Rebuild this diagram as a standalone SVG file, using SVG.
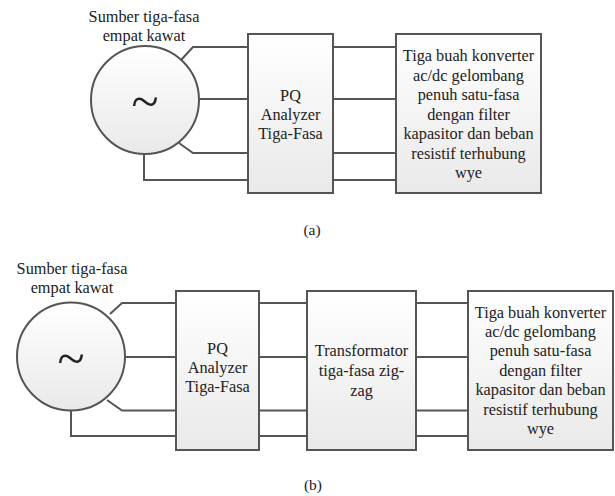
<svg xmlns="http://www.w3.org/2000/svg" width="615" height="496" viewBox="0 0 615 496">
<defs>
<linearGradient id="g" x1="0" y1="0" x2="0" y2="1">
<stop offset="0" stop-color="#ffffff"/>
<stop offset="1" stop-color="#e9e9e9"/>
</linearGradient>
<style>
.b{fill:url(#g);stroke:#555;stroke-width:2}
.w{fill:none;stroke:#555;stroke-width:2}
text{fill:#222;text-anchor:middle;dominant-baseline:central}
</style>
</defs>
<rect width="615" height="496" fill="#fff"/>
<g font-family="Liberation Serif, Times New Roman, serif" font-size="16.3">

<!-- Diagram (a) -->
<g id="a-source">
<circle class="b" cx="145" cy="100" r="54"/>
<text x="145" y="101" font-size="50">~</text>
<text x="144" y="16">Sumber tiga-fasa</text>
<text x="144" y="35">empat kawat</text>
</g>
<g id="a-pq">
<rect class="b" x="248" y="34" width="85" height="159"/>
<text x="290.5" y="95">PQ</text>
<text x="290.5" y="114">Analyzer</text>
<text x="290.5" y="133">Tiga-Fasa</text>
</g>
<g id="a-conv">
<rect class="b" x="396" y="34" width="145" height="159"/>
<text x="468.5" y="55">Tiga buah konverter</text>
<text x="468.5" y="75">ac/dc gelombang</text>
<text x="468.5" y="94.5">penuh satu-fasa</text>
<text x="468.5" y="114">dengan filter</text>
<text x="468.5" y="133.5">kapasitor dan beban</text>
<text x="468.5" y="153">resistif terhubung</text>
<text x="468.5" y="172.5">wye</text>
</g>
<g id="a-connectors">
<polyline class="w" points="181,60 193,47 248,47"/>
<polyline class="w" points="199,99 248,99"/>
<polyline class="w" points="179,143 193,153 248,153"/>
<polyline class="w" points="144,154 144,180 248,180"/>
<line class="w" x1="333" y1="47" x2="396" y2="47"/>
<line class="w" x1="333" y1="99" x2="396" y2="99"/>
<line class="w" x1="333" y1="153" x2="396" y2="153"/>
<line class="w" x1="333" y1="180" x2="396" y2="180"/>
</g>
<text x="312" y="229" font-size="15.5">(a)</text>

<!-- Diagram (b) -->
<g id="b-source">
<circle class="b" cx="71" cy="356.5" r="54"/>
<text x="71" y="357.5" font-size="50">~</text>
<text x="72" y="268">Sumber tiga-fasa</text>
<text x="72" y="287">empat kawat</text>
</g>
<g id="b-pq">
<rect class="b" x="176" y="291" width="83" height="159"/>
<text x="217.5" y="348">PQ</text>
<text x="217.5" y="367">Analyzer</text>
<text x="217.5" y="386">Tiga-Fasa</text>
</g>
<g id="b-trafo">
<rect class="b" x="307" y="291" width="109" height="159"/>
<text x="361.5" y="350">Transformator</text>
<text x="361.5" y="370">tiga-fasa zig-</text>
<text x="361.5" y="390">zag</text>
</g>
<g id="b-conv">
<rect class="b" x="468" y="291" width="145" height="159"/>
<text x="540.5" y="312">Tiga buah konverter</text>
<text x="540.5" y="331.5">ac/dc gelombang</text>
<text x="540.5" y="350.5">penuh satu-fasa</text>
<text x="540.5" y="370">dengan filter</text>
<text x="540.5" y="389.5">kapasitor dan beban</text>
<text x="540.5" y="409">resistif terhubung</text>
<text x="540.5" y="428.5">wye</text>
</g>
<g id="b-connectors">
<polyline class="w" points="110,314 122,303 176,303"/>
<polyline class="w" points="125,357 176,357"/>
<polyline class="w" points="107,400 122,410.5 176,410.5"/>
<polyline class="w" points="71,410.5 71,436 176,436"/>
<line class="w" x1="259" y1="303" x2="307" y2="303"/>
<line class="w" x1="259" y1="357" x2="307" y2="357"/>
<line class="w" x1="259" y1="410.5" x2="307" y2="410.5"/>
<line class="w" x1="259" y1="436" x2="307" y2="436"/>
<line class="w" x1="416" y1="303" x2="468" y2="303"/>
<line class="w" x1="416" y1="357" x2="468" y2="357"/>
<line class="w" x1="416" y1="410.5" x2="468" y2="410.5"/>
<line class="w" x1="416" y1="436" x2="468" y2="436"/>
</g>
<text x="313" y="484" font-size="15.5">(b)</text>
</g>
</svg>
